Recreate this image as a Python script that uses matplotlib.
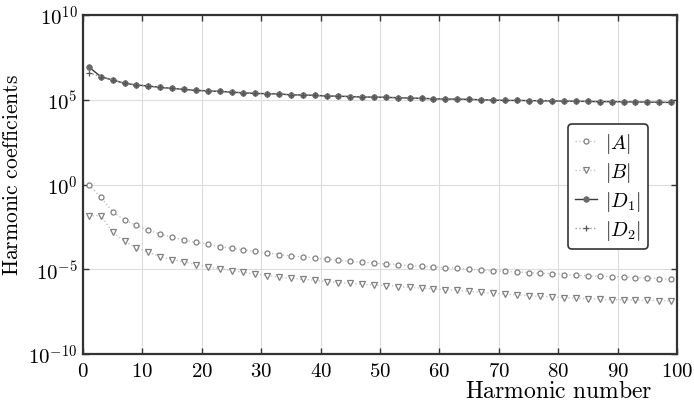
import numpy as np
import matplotlib
matplotlib.use("Agg")
import matplotlib.pyplot as plt

plt.rcParams['mathtext.fontset'] = 'cm'

# harmonic numbers (odd harmonics only)
harmonics = list(range(1, 100, 2))

# log10 of the coefficient magnitudes
A_exp = [-0.02, -0.76, -1.61, -2.10, -2.41, -2.71, -2.92, -3.11, -3.27, -3.42,
         -3.52, -3.66, -3.76, -3.86, -3.94, -4.03, -4.13, -4.21, -4.28, -4.32,
         -4.41, -4.47, -4.53, -4.59, -4.64, -4.69, -4.73, -4.78, -4.82, -4.86,
         -4.90, -4.93, -4.99, -5.06, -5.10, -5.13, -5.16, -5.20, -5.24, -5.26,
         -5.31, -5.35, -5.39, -5.42, -5.43, -5.45, -5.49, -5.51, -5.55, -5.59]
B_exp = [-1.85, -1.83, -2.81, -3.34, -3.76, -3.98, -4.27, -4.43, -4.57, -4.72,
         -4.86, -4.98, -5.08, -5.18, -5.28, -5.37, -5.47, -5.53, -5.59, -5.65,
         -5.73, -5.79, -5.83, -5.89, -5.93, -5.96, -6.02, -6.07, -6.12, -6.16,
         -6.20, -6.24, -6.30, -6.37, -6.42, -6.48, -6.51, -6.56, -6.60, -6.63,
         -6.67, -6.72, -6.74, -6.78, -6.80, -6.80, -6.82, -6.83, -6.85, -6.87]
D1_exp = [6.93, 6.36, 6.16, 5.97, 5.87, 5.81, 5.73, 5.67, 5.61, 5.55,
          5.53, 5.49, 5.45, 5.41, 5.37, 5.36, 5.34, 5.29, 5.28, 5.26,
          5.22, 5.21, 5.19, 5.16, 5.16, 5.14, 5.12, 5.10, 5.08, 5.06,
          5.04, 5.04, 5.02, 5.00, 4.98, 4.96, 4.96, 4.95, 4.94, 4.93,
          4.92, 4.91, 4.90, 4.89, 4.89, 4.88, 4.87, 4.86, 4.85, 4.84]
D2_exp = [6.60, 6.36, 6.16, 5.97, 5.87, 5.81, 5.73, 5.67, 5.61, 5.55,
          5.53, 5.49, 5.45, 5.41, 5.37, 5.36, 5.34, 5.29, 5.28, 5.26,
          5.22, 5.21, 5.19, 5.16, 5.16, 5.14, 5.12, 5.10, 5.08, 5.06,
          5.04, 5.04, 5.02, 5.00, 4.98, 4.96, 4.96, 4.95, 4.94, 4.93,
          4.92, 4.91, 4.90, 4.89, 4.89, 4.88, 4.87, 4.86, 4.85, 4.84]

x_ticks = list(range(0, 101, 10))
y_ticks = [1e-10, 1e-5, 1e0, 1e5, 1e10]
y_ticklabels = [r'$10^{-10}$', r'$10^{-5}$', r'$10^{0}$', r'$10^{5}$', r'$10^{10}$']

fig = plt.figure(figsize=(6.94, 4.06), dpi=100)
ax = fig.add_axes([83 / 694, 51 / 406, 594 / 694, 339 / 406])

ax.plot(harmonics, 10.0 ** np.array(A_exp), linestyle=':', color='#c4c4c4', lw=1.0,
        marker='o', ms=3.6, mfc='white', mec='#808080', mew=0.9, label=r'$|A|$')
ax.plot(harmonics, 10.0 ** np.array(B_exp), linestyle=':', color='#c4c4c4', lw=1.0,
        marker='v', ms=3.8, mfc='white', mec='#808080', mew=0.9, label=r'$|B|$')
ax.plot(harmonics, 10.0 ** np.array(D1_exp), linestyle='-', color='#3a3a3a', lw=1.0,
        marker='o', ms=4.0, mfc='#6a6a6a', mec='#6a6a6a', mew=0.6, label=r'$|D_1|$')
ax.plot(harmonics, 10.0 ** np.array(D2_exp), linestyle=':', color='#9a9a9a', lw=1.0,
        marker='+', ms=4.0, mec='#555555', mew=0.9, label=r'$|D_2|$')

ax.set_yscale('log')
ax.set_xlim(0, 100)
ax.set_ylim(1e-10, 1e10)
ax.set_xticks(x_ticks)
ax.set_xticklabels([r'$%d$' % t for t in x_ticks])
ax.set_yticks(y_ticks)
ax.set_yticklabels(y_ticklabels)
ax.yaxis.set_minor_locator(matplotlib.ticker.NullLocator())
ax.tick_params(which='both', direction='in', top=True, right=True, length=4,
               width=1.0, color='#333333', labelsize=15, pad=4)

ax.grid(True, color='#dcdcdc', linewidth=0.8)
for s in ax.spines.values():
    s.set_linewidth(1.6)
    s.set_color('#333333')

ax.set_xlabel(r'$\mathrm{Harmonic\ number}$', fontsize=17)
ax.xaxis.set_label_coords(0.80, -0.07)
ax.set_ylabel(r'$\mathrm{Harmonic\ coefficients}$', fontsize=15.5)
ax.yaxis.set_label_coords(-0.103, 0.53)

leg = ax.legend(loc='center right', bbox_to_anchor=(0.968, 0.495), fontsize=14.5,
                handlelength=1.1, handletextpad=0.4, borderpad=0.35, labelspacing=0.25,
                fancybox=True, framealpha=1.0)
leg.get_frame().set_edgecolor('#333333')
leg.get_frame().set_linewidth(1.2)

fig.savefig('out.png', dpi=100)
